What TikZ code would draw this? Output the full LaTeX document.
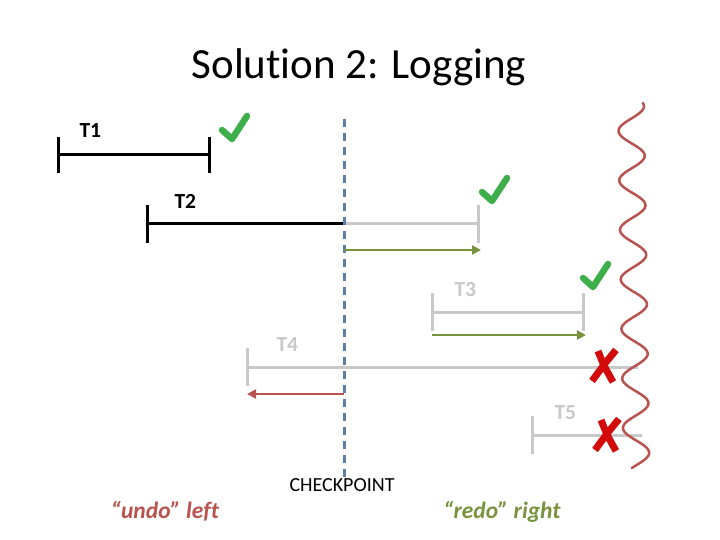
\documentclass[tikz,border=0pt]{standalone}
\usepackage{fontspec}
\setmainfont{Carlito}[Ligatures=NoCommon]
\usetikzlibrary{positioning, arrows.meta, calc}

\definecolor{undored}{HTML}{B85450}
\definecolor{redogreen}{HTML}{77933C}
\definecolor{ckblue}{HTML}{5B80A8}
\definecolor{txgrey}{HTML}{C8C8C8}
\definecolor{okgreen}{HTML}{3DAE49}
\definecolor{failred}{HTML}{D20A0A}

\tikzset{
  txbar/.style={line width=3pt},
  donebar/.style={txbar, black},
  ghostbar/.style={txbar, txgrey},
  txlabel/.style={font=\fontsize{21.5}{24}\selectfont\bfseries, anchor=base west},
  replay/.style={line width=2.5pt, -{Triangle[length=9pt, width=9pt]}},
  okmark/.pic={
    \draw[okgreen, line width=6.5pt, line cap=round, line join=round] (-12,2) -- (-2,11) -- (13,-12);
  },
  failmark/.pic={
    \draw[failred, line width=7pt] (12,-16) .. controls (2,-4) .. (-12,15);
    \draw[failred, line width=7pt] (-6,-15) .. controls (0,0) .. (9,16);
  }
}

% vertical end tick of a transaction
\newcommand{\txtick}[3]{\draw[txbar, #1] ($(#2)+(0,-#3)$) -- ($(#2)+(0,#3)$);}

\begin{document}
\begin{tikzpicture}[x=1pt, y=-1pt]
    \useasboundingbox (0,0) rectangle (720,540);

    \node[font=\fontsize{43}{48}\selectfont, anchor=base] (title) at (359,79) {Solution 2: Logging};

    % transaction end points
    \coordinate (t1s) at (58,155);
    \coordinate (t1e) at (209,155);
    \coordinate (t2s) at (147,224);
    \coordinate (t2c) at (344,224);
    \coordinate (t2e) at (478,224);
    \coordinate (t3s) at (432,312);
    \coordinate (t3e) at (583,312);
    \coordinate (t4s) at (247,367);
    \coordinate (t4e) at (638,367);
    \coordinate (t5s) at (532,435);
    \coordinate (t5e) at (642,435);

    % checkpoint
    \coordinate (ckTop) at (344,119);
    \coordinate (ckBot) at (344,480);

    % T1
    \draw[donebar] (t1s) -- (t1e);
    \txtick{black}{t1s}{18}
    \txtick{black}{t1e}{18}
    \node[txlabel] (lt1) at (76,138) {T1};
    \pic at (234,128) {okmark};

    % T2
    \draw[ghostbar] (t2c) -- (t2e);
    \draw[donebar] (t2s) -- (t2c);
    \txtick{black}{t2s}{19}
    \txtick{txgrey}{t2e}{19}
    \node[txlabel] (lt2) at (171,208) {T2};
    \pic at (494,190) {okmark};

    % T3
    \draw[ghostbar] (t3s) -- (t3e);
    \txtick{txgrey}{t3s}{19}
    \txtick{txgrey}{t3e}{19}
    \node[txlabel, txgrey] (lt3) at (451,296) {T3};
    \pic at (595,276) {okmark};

    % T4
    \draw[ghostbar] (t4s) -- (t4e);
    \txtick{txgrey}{t4s}{19}
    \node[txlabel, txgrey] (lt4) at (273,351) {T4};

    % T5
    \draw[ghostbar] (t5s) -- (t5e);
    \txtick{txgrey}{t5s}{19}
    \node[txlabel, txgrey] (lt5) at (551,419) {T5};

    % checkpoint line
    \draw[ckblue, line width=3pt, dash pattern=on 8pt off 6pt] (ckTop) -- (ckBot);
    \node[font=\fontsize{20}{22}\selectfont, anchor=base] (ckText) at (342,491) {CHECKPOINT};

    % redo / undo passes
    \draw[replay, redogreen] ($(t2c)+(0,26)$) -- ($(t2e)+(3,26)$);
    \draw[replay, redogreen] ($(t3s)+(0,23)$) -- ($(t3e)+(3,23)$);
    \draw[replay, undored] (344,394) -- ($(t4s)+(0,27)$);

    \pic at (604,366) {failmark};
    \pic at (607,435) {failmark};

    % crash
    \draw[undored, line width=2.5pt, line cap=round, smooth]
        plot[domain=0:365, samples=150] ({631 + \x*0.015 - 13*cos(7.2727*\x - 203.6)}, {103+\x});

    \node[font=\fontsize{23.5}{26}\selectfont\bfseries\itshape, undored, anchor=base] (undo) at (165,518) {“undo” left};
    \node[font=\fontsize{23.5}{26}\selectfont\bfseries\itshape, redogreen, anchor=base] (redo) at (502,518) {“redo” right};
\end{tikzpicture}
\end{document}
